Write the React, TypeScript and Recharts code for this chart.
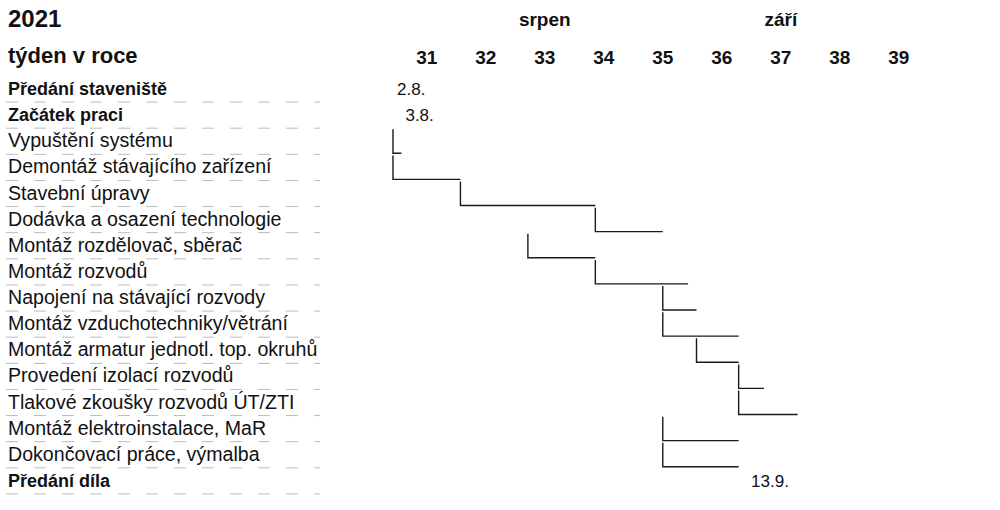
import { BarChart, Bar, XAxis, YAxis } from 'recharts';

// days counted from Mon 2 Aug 2021
const tasks = [
  'Předání staveniště',
  'Začátek praci',
  'Vypuštění systému',
  'Demontáž stávajícího zařízení',
  'Stavební úpravy',
  'Dodávka a osazení technologie',
  'Montáž rozdělovač, sběrač',
  'Montáž rozvodů',
  'Napojení na stávající rozvody',
  'Montáž vzduchotechniky/větrání',
  'Montáž armatur jednotl. top. okruhů',
  'Provedení izolací rozvodů',
  'Tlakové zkoušky rozvodů ÚT/ZTI',
  'Montáž elektroinstalace, MaR',
  'Dokončovací práce, výmalba',
  'Předání díla',
];
const starts = [0, 1, 0, 0, 8, 24, 16, 24, 32, 32, 36, 41, 41, 32, 32, 42];
const ends = [0, 1, 1, 8, 24, 32, 24, 35, 36, 41, 41, 44, 48, 41, 41, 42];
const milestoneLabels = ['2.8.', '3.8.', '', '', '', '', '', '', '', '', '', '', '', '', '', '13.9.'];
const boldRows = ['Předání staveniště', 'Začátek praci', 'Předání díla'];

const weeks = ['31', '32', '33', '34', '35', '36', '37', '38', '39'];
const weekTicks = [4, 11, 18, 25, 32, 39, 46, 53, 60];
// month name shown above the given week
const months = ['srpen', 'září'];
const monthWeeks = ['33', '37'];

const data = tasks.map((name, i) => ({
  name,
  span: [starts[i], ends[i]],
  label: milestoneLabels[i],
}));

const FONT = '"Liberation Sans", Arial, sans-serif';

const GanttShape = (props: any) => {
  const { x, y, width, height, payload } = props;
  if (payload.label) {
    return (
      <text x={x + 4} y={y + height / 2} dy={6} fontSize={17} fill="#111" fontFamily={FONT}>
        {payload.label}
      </text>
    );
  }
  const b = y + height - 1;
  return (
    <path
      d={`M${x},${y + 1} L${x},${b} L${x + width},${b}`}
      fill="none"
      stroke="#1a1a1a"
      strokeWidth={1.4}
    />
  );
};

const TaskTick = (props: any) => {
  const { y, payload } = props;
  const bold = boldRows.includes(payload.value);
  return (
    <g>
      <text
        x={8}
        y={y}
        dy={6}
        textAnchor="start"
        fontSize={bold ? 18 : 19.6}
        fontWeight={bold ? 700 : 400}
        fill="#111"
        fontFamily={FONT}
      >
        {payload.value}
      </text>
      <line x1={6} x2={320} y1={y + 13} y2={y + 13} stroke="#bbb" strokeDasharray="12 16" />
    </g>
  );
};

const WeekTick = (props: any) => {
  const { x, y, index } = props;
  const week = weeks[index];
  const m = monthWeeks.indexOf(week);
  return (
    <g>
      {m >= 0 && (
        <text x={x} y={y - 50} textAnchor="middle" fontSize={19} fontWeight={700} fill="#111" fontFamily={FONT}>
          {months[m]}
        </text>
      )}
      <text x={x} y={y - 12} textAnchor="middle" fontSize={19} fontWeight={700} fill="#111" fontFamily={FONT}>
        {week}
      </text>
    </g>
  );
};

export default function App() {
  return (
    <div
      style={{
        position: 'fixed',
        left: 0,
        top: 0,
        width: 1000,
        height: 510,
        background: '#fff',
        fontFamily: FONT,
      }}
    >
      <div style={{ position: 'absolute', left: 8, top: 5, fontSize: 24, fontWeight: 700, color: '#111' }}>
        2021
      </div>
      <div style={{ position: 'absolute', left: 8, top: 43, fontSize: 22, fontWeight: 700, color: '#111' }}>
        týden v roce
      </div>
      <BarChart
        width={1000}
        height={510}
        data={data}
        layout="vertical"
        barCategoryGap={0}
        margin={{ top: 0, right: 0, bottom: 16, left: 0 }}
      >
        <XAxis
          type="number"
          orientation="top"
          domain={[0, 72]}
          ticks={weekTicks}
          tick={<WeekTick />}
          tickSize={0}
          tickMargin={0}
          axisLine={false}
          tickLine={false}
          height={76}
        />
        <YAxis
          type="category"
          dataKey="name"
          width={393}
          tick={<TaskTick />}
          axisLine={false}
          tickLine={false}
          interval={0}
        />
        <Bar dataKey="span" shape={GanttShape} isAnimationActive={false} />
      </BarChart>
    </div>
  );
}
